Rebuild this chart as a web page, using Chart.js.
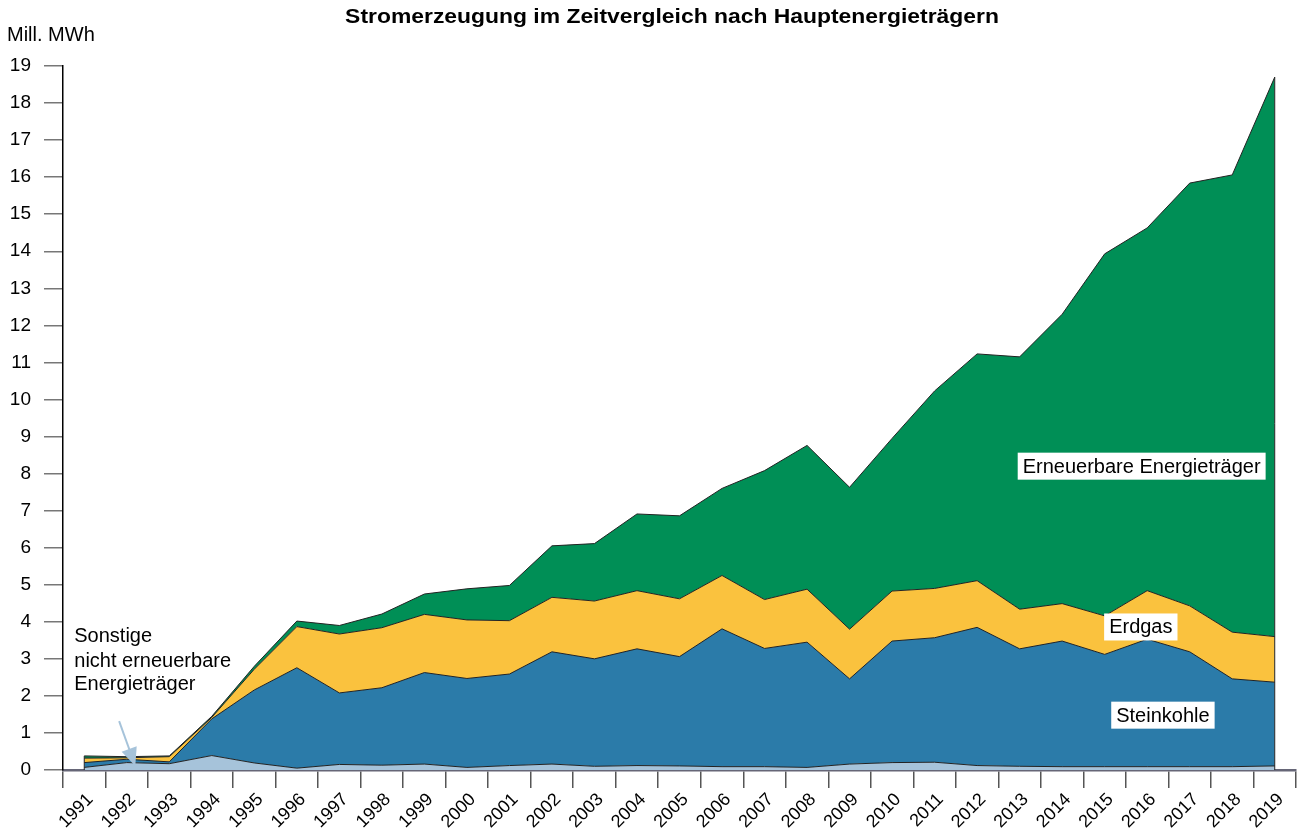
<!DOCTYPE html>
<html>
<head>
<meta charset="utf-8">
<script src="https://cdn.jsdelivr.net/npm/chart.js@4.4.0/dist/chart.umd.min.js"></script>
<style>
  html, body { margin: 0; padding: 0; background: #fff; }
</style>
</head>
<body>
<canvas id="c" width="1303" height="834"></canvas>
<script>
const years = ['1991','1992','1993','1994','1995','1996','1997','1998','1999','2000',
  '2001','2002','2003','2004','2005','2006','2007','2008','2009','2010',
  '2011','2012','2013','2014','2015','2016','2017','2018','2019'];

// Mill. MWh
const sonstige = [0.07,0.20,0.17,0.39,0.19,0.05,0.15,0.13,0.16,0.07,
  0.12,0.16,0.10,0.12,0.11,0.09,0.09,0.07,0.16,0.20,
  0.21,0.12,0.10,0.09,0.09,0.09,0.09,0.09,0.11];
const steinkohle = [0.13,0.09,0.05,0.99,1.97,2.71,1.93,2.09,2.47,2.40,
  2.47,3.03,2.90,3.15,2.95,3.72,3.19,3.38,2.30,3.28,
  3.36,3.73,3.17,3.39,3.03,3.44,3.10,2.37,2.26];
const erdgas = [0.12,0.04,0.14,0.04,0.56,1.11,1.59,1.62,1.57,1.58,
  1.44,1.47,1.56,1.57,1.56,1.44,1.32,1.43,1.34,1.35,
  1.33,1.26,1.07,1.01,1.04,1.31,1.24,1.26,1.23];
const erneuerbare = [0.06,0.03,0.02,0.03,0.08,0.15,0.23,0.37,0.55,0.84,
  0.95,1.39,1.55,2.07,2.24,2.35,3.48,3.88,3.83,4.12,
  5.33,6.12,6.81,7.81,9.77,9.79,11.41,12.34,15.10];

const FONT = "'Liberation Sans', Arial, sans-serif";

// labels drawn on the plot, placed in data units (category index, value)
const notes = [
  { text: 'Erneuerbare Energieträger', x: 24.87, y: 8.2 },
  { text: 'Erdgas', x: 24.85, y: 3.86 },
  { text: 'Steinkohle', x: 25.37, y: 1.48 }
];
const sonstigeNote = ['Sonstige', 'nicht erneuerbare', 'Energieträger'];

const textPlugin = {
  id: 'texts',
  afterDraw(chart) {
    const ctx = chart.ctx;
    const xs = chart.scales.x, ys = chart.scales.y;
    ctx.save();
    ctx.fillStyle = '#000';
    ctx.textBaseline = 'middle';

    // title, slightly wide like the original
    ctx.save();
    ctx.translate(672, 17);
    ctx.scale(1.09, 1);
    ctx.font = 'bold 21px ' + FONT;
    ctx.textAlign = 'center';
    ctx.fillText('Stromerzeugung im Zeitvergleich nach Hauptenergieträgern', 0, 0);
    ctx.restore();

    ctx.font = '20px ' + FONT;
    ctx.textAlign = 'left';
    ctx.fillText('Mill. MWh', 7, 35);

    // boxed series labels
    ctx.textAlign = 'center';
    notes.forEach(n => {
      const px = xs.getPixelForValue(n.x), py = ys.getPixelForValue(n.y);
      const w = ctx.measureText(n.text).width + 10;
      ctx.fillStyle = '#fff';
      ctx.fillRect(px - w / 2, py - 13.5, w, 27);
      ctx.fillStyle = '#000';
      ctx.fillText(n.text, px, py + 1);
    });

    // Sonstige note + arrow
    ctx.textAlign = 'left';
    const lx = xs.getPixelForValue(-0.235);
    [3.59, 2.94, 2.32].forEach((v, i) => {
      ctx.fillText(sonstigeNote[i], lx, ys.getPixelForValue(v));
    });
    const ax0 = xs.getPixelForValue(0.82), ay0 = ys.getPixelForValue(1.32);
    const ax1 = xs.getPixelForValue(1.2), ay1 = ys.getPixelForValue(0.11);
    const ang = Math.atan2(ay1 - ay0, ax1 - ax0);
    ctx.strokeStyle = '#a6c3da';
    ctx.fillStyle = '#a6c3da';
    ctx.lineWidth = 2;
    ctx.beginPath();
    ctx.moveTo(ax0, ay0);
    ctx.lineTo(ax1 - 14 * Math.cos(ang), ay1 - 14 * Math.sin(ang));
    ctx.stroke();
    ctx.beginPath();
    ctx.moveTo(ax1, ay1);
    ctx.lineTo(ax1 - 18 * Math.cos(ang) + 8 * Math.sin(ang), ay1 - 18 * Math.sin(ang) - 8 * Math.cos(ang));
    ctx.lineTo(ax1 - 18 * Math.cos(ang) - 8 * Math.sin(ang), ay1 - 18 * Math.sin(ang) + 8 * Math.cos(ang));
    ctx.closePath();
    ctx.fill();

    // closing edges of the stacked area
    const last = years.length - 1;
    const total = i => sonstige[i] + steinkohle[i] + erdgas[i] + erneuerbare[i];
    ctx.strokeStyle = '#222';
    ctx.lineWidth = 1;
    [0, last].forEach(i => {
      const px = xs.getPixelForValue(i);
      ctx.beginPath();
      ctx.moveTo(px, ys.getPixelForValue(0));
      ctx.lineTo(px, ys.getPixelForValue(total(i)));
      ctx.stroke();
    });
    ctx.restore();
  }
};

function ds(label, data, color, fill) {
  return {
    label, data,
    backgroundColor: color,
    borderColor: '#222',
    borderWidth: 1,
    fill,
    tension: 0,
    pointRadius: 0,
    pointHoverRadius: 0
  };
}

new Chart(document.getElementById('c'), {
  type: 'line',
  data: {
    labels: years,
    datasets: [
      ds('Sonstige nicht erneuerbare Energieträger', sonstige, '#a6c3da', 'origin'),
      ds('Steinkohle', steinkohle, '#2b7ba9', '-1'),
      ds('Erdgas', erdgas, '#fac23e', '-1'),
      ds('Erneuerbare Energieträger', erneuerbare, '#008f56', '-1')
    ]
  },
  options: {
    responsive: false,
    animation: false,
    layout: { padding: { top: 66, right: 7, left: 0, bottom: 0 } },
    plugins: {
      legend: { display: false },
      title: { display: false },
      tooltip: { enabled: false }
    },
    scales: {
      x: {
        offset: true,
        grid: {
          offset: true,
          drawOnChartArea: false,
          drawTicks: true,
          tickLength: 18,
          color: '#555',
          lineWidth: 1.5
        },
        border: { display: true, color: '#667', width: 2.5 },
        ticks: {
          color: '#000',
          font: { family: FONT, size: 18 },
          maxRotation: 45,
          minRotation: 45,
          padding: 1,
          labelOffset: 6,
          autoSkip: false
        },
        afterFit(scale) { scale.height = 64; }
      },
      y: {
        stacked: true,
        min: 0,
        max: 19,
        grid: {
          drawOnChartArea: false,
          tickLength: 19,
          color: '#777',
          lineWidth: 1.5
        },
        border: { display: true, color: '#000', width: 1.5 },
        ticks: {
          stepSize: 1,
          color: '#000',
          font: { family: FONT, size: 19 },
          padding: 13
        },
        afterFit(scale) { scale.width = 63; }
      }
    }
  },
  plugins: [textPlugin]
});
</script>
</body>
</html>
